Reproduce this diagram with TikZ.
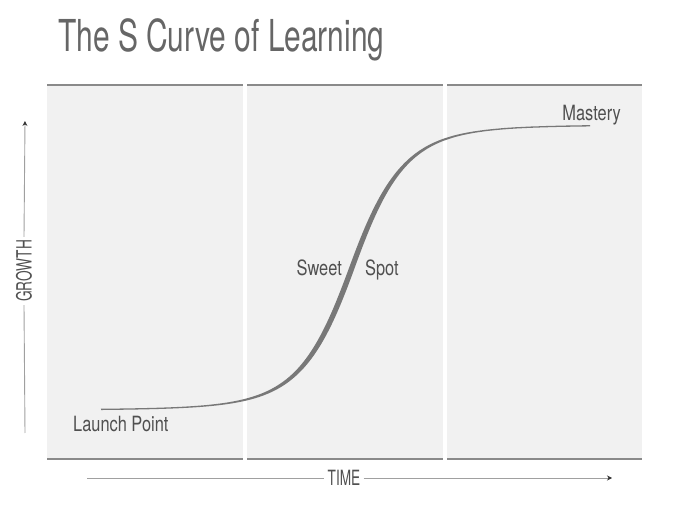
\documentclass[tikz,border=0pt]{standalone}
\usepackage{fontspec}
\setmainfont{TeX Gyre Heros}
\newfontfamily\titlefont[FakeStretch=0.68]{TeX Gyre Heros}
\newfontfamily\labfont[FakeStretch=0.78]{TeX Gyre Heros}
\newfontfamily\axfont[FakeStretch=0.65]{TeX Gyre Heros}
\usetikzlibrary{arrows.meta}
\definecolor{panelc}{HTML}{F1F1F1}
\definecolor{rulec}{HTML}{8A8A8A}
\definecolor{curvec}{HTML}{787878}
\definecolor{textc}{HTML}{505050}
\definecolor{titlec}{HTML}{666666}
\definecolor{axisc}{HTML}{A0A0A0}
\definecolor{tipc}{HTML}{333333}
\tikzset{
  panelbox/.style={fill=panelc,draw=none},
  rule/.style={draw=rulec,line width=2pt},
  lab/.style={inner sep=0pt,text=textc,font=\labfont\fontsize{21}{24}\selectfont},
  axlab/.style={inner sep=3pt,text=textc,font=\axfont\fontsize{21}{24}\selectfont},
  axline/.style={draw=axisc,line width=0.9pt},
  tip/.style={-{Stealth[length=5pt,width=5pt,color=tipc]}}
}
\begin{document}
\begin{tikzpicture}[x=1pt,y=-1pt,
  declare function={
    kk(\x)=26+0.06*abs(\x-352);
    sg(\x)=1/(1+exp(-(\x-352)/kk(\x)));
    cy(\x)=410-285*sg(\x);
    dy(\x)=cy(\x+0.5)-cy(\x-0.5);
    th(\x)=1.3+4.0*exp(-((\x-345)/75)*((\x-345)/75));
    nl(\x)=sqrt(1+dy(\x)*dy(\x));
  }]
\useasboundingbox (0,0) rectangle (678,510);
% title
\node[anchor=base west,inner sep=0pt,text=titlec,font=\titlefont\fontsize{44}{50}\selectfont] (title) at (58,52) {The S Curve of Learning};
% panels
\foreach \a/\b in {47/243,247/443,447/642}{
  \fill[panelbox] (\a,85) rectangle (\b,459);
  \draw[rule] (\a,85) -- (\b,85);
  \draw[rule] (\a,459) -- (\b,459);
}
% curve
\fill[curvec] plot[domain=101:590,samples=240,smooth] ({\x - dy(\x)*th(\x)/2/nl(\x)},{cy(\x) + th(\x)/2/nl(\x)})
  -- plot[domain=590:101,samples=240,smooth] ({\x + dy(\x)*th(\x)/2/nl(\x)},{cy(\x) - th(\x)/2/nl(\x)}) -- cycle;
% labels
\node[lab,anchor=base west] (launch) at (73,432) {Launch Point};
\node[lab,anchor=base east] (mastery) at (621,121) {Mastery};
\node[lab,anchor=base east] (sweet) at (342,276) {Sweet};
\node[lab,anchor=base west] (spot) at (365,276) {Spot};
% axes
\coordinate (gbot) at (25,433);
\coordinate (gtop) at (25,121);
\node[axlab,rotate=90] (growth) at (24,271) {GROWTH};
\draw[axline] (gbot) -- (growth.west);
\draw[axline,tip] (growth.east) -- (gtop);
\coordinate (tstart) at (87,478);
\coordinate (tend) at (612,478);
\node[axlab] (time) at (344,478) {TIME};
\draw[axline] (tstart) -- (time.west);
\draw[axline,tip] (time.east) -- (tend);
\end{tikzpicture}
\end{document}
